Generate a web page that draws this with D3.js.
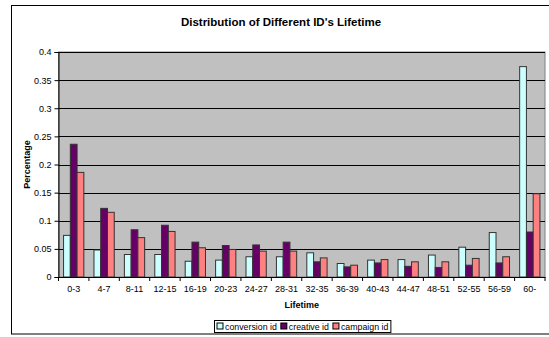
<!DOCTYPE html>
<html>
<head>
<meta charset="utf-8">
<script src="https://cdn.jsdelivr.net/npm/d3@7"></script>
<style>
  html, body { margin: 0; padding: 0; background: #fff; }
  svg { display: block; font-family: "Liberation Sans", Arial, sans-serif; }
</style>
</head>
<body>
<svg id="chart" width="549" height="337"></svg>
<script>
// Lifetime buckets
const categories = ["0-3", "4-7", "8-11", "12-15", "16-19", "20-23", "24-27", "28-31",
  "32-35", "36-39", "40-43", "44-47", "48-51", "52-55", "56-59", "60-"];
// Share of each ID type per bucket
const conversionId = [0.074, 0.048, 0.040, 0.040, 0.028, 0.030, 0.036, 0.036,
  0.043, 0.024, 0.030, 0.031, 0.039, 0.053, 0.079, 0.374];
const creativeId = [0.236, 0.122, 0.084, 0.092, 0.062, 0.056, 0.057, 0.062,
  0.027, 0.018, 0.025, 0.019, 0.017, 0.021, 0.025, 0.080];
const campaignId = [0.186, 0.115, 0.070, 0.081, 0.052, 0.049, 0.046, 0.046,
  0.034, 0.021, 0.031, 0.027, 0.027, 0.033, 0.036, 0.148];
const seriesNames = ["conversion id", "creative id", "campaign id"];
const yTicks = [0, 0.05, 0.1, 0.15, 0.2, 0.25, 0.3, 0.35, 0.4];

const series = [conversionId, creativeId, campaignId];
const colors = ["#CCFFFF", "#660066", "#FF8080"];

const svg = d3.select("#chart");
const plot = { left: 58.5, right: 545, top: 52, bottom: 277 };

// Outer chart frame
svg.append("rect")
  .attr("x", 11.5).attr("y", 5.5).attr("width", 560).attr("height", 328.5)
  .attr("fill", "#fff").attr("stroke", "#000").attr("stroke-width", 1);

svg.append("text")
  .attr("x", 281).attr("y", 26)
  .attr("text-anchor", "middle")
  .attr("font-size", 11.5).attr("font-weight", "bold")
  .text("Distribution of Different ID's Lifetime");

const x = d3.scaleBand().domain(categories)
  .range([plot.left, plot.right]).paddingInner(0).paddingOuter(0);
const y = d3.scaleLinear().domain([0, 0.4]).range([plot.bottom, plot.top]);

// Plot background
svg.append("rect")
  .attr("x", plot.left).attr("y", plot.top)
  .attr("width", plot.right - plot.left).attr("height", plot.bottom - plot.top)
  .attr("fill", "#C0C0C0").attr("stroke", "#808080").attr("stroke-width", 1);

// Gridlines
svg.append("g").selectAll("line")
  .data(yTicks.filter(t => t > 0))
  .join("line")
  .attr("x1", plot.left).attr("x2", plot.right)
  .attr("y1", d => Math.round(y(d)) + 0.5).attr("y2", d => Math.round(y(d)) + 0.5)
  .attr("stroke", "#000").attr("stroke-width", 1);

// Bars: each bucket is split into 4.5 bar widths (3 bars + gap)
const bw = x.bandwidth() / 4.5;
const groups = svg.append("g").selectAll("g")
  .data(series).join("g");
groups.selectAll("rect")
  .data((s, i) => s.map((v, j) => ({ v, j, i })))
  .join("rect")
  .attr("x", d => x(categories[d.j]) + bw * 0.75 + d.i * bw)
  .attr("y", d => y(d.v))
  .attr("width", bw)
  .attr("height", d => y(0) - y(d.v))
  .attr("fill", d => colors[d.i])
  .attr("stroke", "#333").attr("stroke-width", 1);

// Y axis
const yAxis = svg.append("g")
  .attr("transform", `translate(${plot.left},0)`)
  .call(d3.axisLeft(y).tickValues(yTicks).tickSize(4).tickFormat(d3.format("")));
yAxis.select(".domain").attr("stroke", "#000");
yAxis.selectAll("text").attr("font-size", 9).attr("fill", "#000")
  .attr("font-family", "Liberation Sans, Arial, sans-serif");

// X axis
const xAxis = svg.append("g")
  .attr("transform", `translate(0,${plot.bottom})`)
  .call(d3.axisBottom(x).tickSize(0).tickPadding(9));
xAxis.select(".domain").attr("stroke", "#000");
xAxis.selectAll("text").attr("font-size", 9).attr("fill", "#000")
  .attr("font-family", "Liberation Sans, Arial, sans-serif");
// tick marks between buckets
svg.append("g").selectAll("line")
  .data(categories.map((c, i) => i).concat([categories.length]))
  .join("line")
  .attr("x1", i => (i < categories.length ? x(categories[i]) : plot.right))
  .attr("x2", i => (i < categories.length ? x(categories[i]) : plot.right))
  .attr("y1", plot.bottom).attr("y2", plot.bottom + 4)
  .attr("stroke", "#000");

// Axis titles
svg.append("text")
  .attr("transform", `translate(30,${(plot.top + plot.bottom) / 2}) rotate(-90)`)
  .attr("text-anchor", "middle")
  .attr("font-size", 9).attr("font-weight", "bold")
  .text("Percentage");
svg.append("text")
  .attr("x", (plot.left + plot.right) / 2).attr("y", 308)
  .attr("text-anchor", "middle")
  .attr("font-size", 9).attr("font-weight", "bold")
  .text("Lifetime");

// Legend, centred under the plot
const legend = svg.append("g");
const legendItems = legend.selectAll("g").data(seriesNames).join("g");
let lx = 3;
legendItems.each(function (name, i) {
  const g = d3.select(this).attr("transform", `translate(${lx},0)`);
  g.append("rect").attr("x", 0).attr("y", 3).attr("width", 6).attr("height", 6)
    .attr("fill", colors[i]).attr("stroke", "#000");
  const t = g.append("text").attr("x", 8).attr("y", 9.5)
    .attr("font-size", 8.8).text(name);
  lx += 8 + t.node().getComputedTextLength() + 4;
});
const legendW = lx - 2;
legend.insert("rect", ":first-child")
  .attr("x", 0.5).attr("y", 0.5).attr("width", legendW).attr("height", 12)
  .attr("fill", "#fff").attr("stroke", "#000");
legend.attr("transform",
  `translate(${Math.round((plot.left + plot.right) / 2 - legendW / 2)},320)`);
</script>
</body>
</html>
